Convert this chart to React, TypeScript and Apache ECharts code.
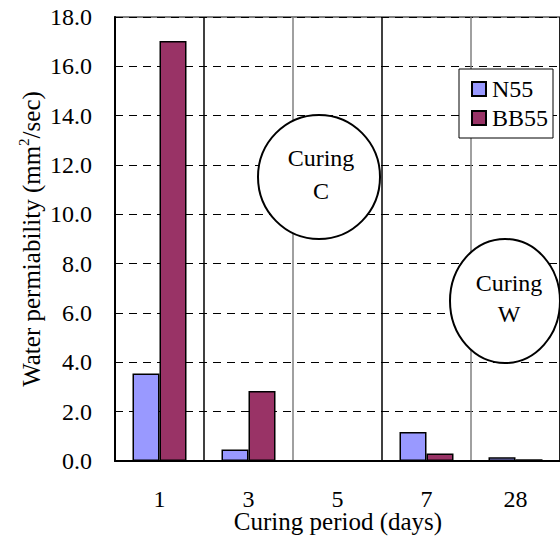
import React, { useEffect, useRef } from "react";
import * as echarts from "echarts";

const categories = ["1", "3", "5", "7", "28"];
const n55Values = [3.55, 0.47, null, 1.18, 0.15];
const bb55Values = [17.03, 2.84, null, 0.3, 0.07];
const seriesNames = ["N55", "BB55"];
const yTicks = { min: 0, max: 18, interval: 2 };
const xTitle = "Curing period (days)";

const FONT = "Liberation Serif";

export default function App() {
  const ref = useRef<HTMLDivElement>(null);
  useEffect(() => {
    if (!ref.current) return;
    const chart = echarts.init(ref.current, null, { renderer: "svg" });
    const textBase = { fontFamily: FONT, color: "#000", fontWeight: "normal" as const };
    chart.setOption({
      animation: false,
      backgroundColor: "#fff",
      textStyle: { fontFamily: FONT },
      grid: {
        left: 115,
        right: 0,
        top: 17,
        bottom: 79,
        containLabel: false,
        outerBoundsMode: "none",
        show: true,
        borderColor: "#555",
        borderWidth: 1.5,
      },
      legend: {
        orient: "vertical",
        left: 459,
        top: 69,
        padding: [8, 5, 8, 12],
        itemGap: 5,
        itemWidth: 14,
        itemHeight: 14,
        icon: "rect",
        borderColor: "#000",
        borderWidth: 1,
        backgroundColor: "#fff",
        textStyle: { ...textBase, fontSize: 24, padding: [0, 0, 0, 1] },
        data: seriesNames,
        z: 20,
      },
      xAxis: {
        type: "category",
        data: categories,
        boundaryGap: true,
        axisLine: { lineStyle: { color: "#000", width: 2 } },
        axisTick: { show: false },
        axisLabel: { ...textBase, fontSize: 24, margin: 26 },
        splitLine: {
          show: true,
          interval: 0,
          lineStyle: {
            color: ["#000", "#000", "#808080", "#000", "#808080", "#000"],
            width: 1.5,
          },
        },
      },
      yAxis: {
        type: "value",
        min: yTicks.min,
        max: yTicks.max,
        interval: yTicks.interval,
        axisLine: { show: true, lineStyle: { color: "#000", width: 2 } },
        axisTick: { show: true, inside: true, length: 6, lineStyle: { color: "#000" } },
        axisLabel: {
          ...textBase,
          fontSize: 24,
          margin: 23,
          formatter: (v: number) => v.toFixed(1),
        },
        splitLine: {
          show: true,
          lineStyle: { color: "#000", type: [8, 6], width: 1 },
        },
      },
      series: [
        {
          name: seriesNames[0],
          type: "bar",
          data: n55Values,
          barWidth: 27,
          barGap: "0%",
          itemStyle: { color: "#9999FF", borderColor: "#000", borderWidth: 1.5 },
        },
        {
          name: seriesNames[1],
          type: "bar",
          data: bb55Values,
          barWidth: 27,
          barGap: "0%",
          itemStyle: { color: "#993366", borderColor: "#000", borderWidth: 1.5 },
        },
      ],
      graphic: [
        {
          type: "text",
          x: 338,
          y: 521,
          style: { text: xTitle, fontFamily: FONT, fontSize: 25, fill: "#000", align: "center", verticalAlign: "middle" },
          z: 11,
        },
        {
          type: "ellipse",
          shape: { cx: 319, cy: 177, rx: 61, ry: 62 },
          style: { fill: "#fff", stroke: "#000", lineWidth: 2 },
          z: 10,
        },
        {
          type: "text",
          x: 321,
          y: 158,
          style: { text: "Curing", fontFamily: FONT, fontSize: 24, fill: "#000", align: "center", verticalAlign: "middle" },
          z: 11,
        },
        {
          type: "text",
          x: 321,
          y: 191,
          style: { text: "C", fontFamily: FONT, fontSize: 24, fill: "#000", align: "center", verticalAlign: "middle" },
          z: 11,
        },
        {
          type: "ellipse",
          shape: { cx: 505, cy: 301, rx: 55, ry: 62 },
          style: { fill: "#fff", stroke: "#000", lineWidth: 2 },
          z: 10,
        },
        {
          type: "text",
          x: 509,
          y: 283,
          style: { text: "Curing", fontFamily: FONT, fontSize: 24, fill: "#000", align: "center", verticalAlign: "middle" },
          z: 11,
        },
        {
          type: "text",
          x: 509,
          y: 314,
          style: { text: "W", fontFamily: FONT, fontSize: 24, fill: "#000", align: "center", verticalAlign: "middle" },
          z: 11,
        },
        {
          type: "text",
          x: 30,
          y: 239,
          rotation: Math.PI / 2,
          style: {
            text: "{m|Water permiability (mm}{s|2}{m|/sec)}",
            align: "center",
            verticalAlign: "middle",
            fontFamily: FONT,
            rich: {
              m: { fontFamily: FONT, fontSize: 25, fill: "#000", lineHeight: 28, verticalAlign: "bottom" },
              s: { fontFamily: FONT, fontSize: 15, fill: "#000", lineHeight: 28, verticalAlign: "top" },
            },
          },
          z: 11,
        },
      ],
    });
    return () => chart.dispose();
  }, []);
  return (
    <div
      ref={ref}
      style={{ position: "absolute", left: 0, top: 0, width: 560, height: 540 }}
    />
  );
}
